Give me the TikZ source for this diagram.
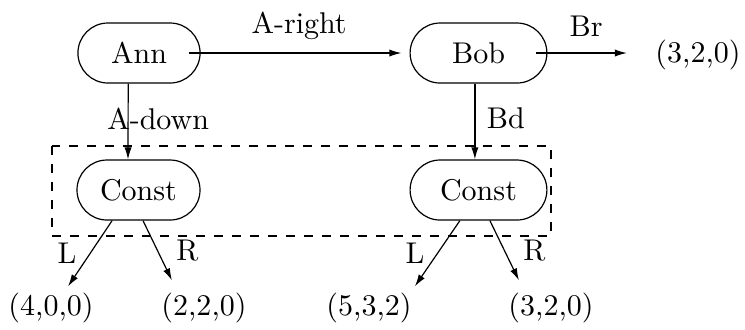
\documentclass[tikz,border=0pt]{standalone}
\usepackage{tikz}
\usetikzlibrary{arrows.meta, shapes.misc}

\begin{document}
\begin{tikzpicture}[x=0.3333pt, y=-0.3333pt, >={Latex[length=4pt,width=2.4pt]},
  state/.style={draw, rounded rectangle, minimum height=20pt, inner sep=0pt}]
\useasboundingbox (0,0) rectangle (745,329);
% players
\node[state, minimum width=40.7pt] (ann) at (139,53) {Ann};
\node[state, minimum width=45.6pt] (bob) at (478.5,53) {Bob};
% constant nodes, grouped in one box
\node[state, minimum width=41pt] (cl) at (138.5,190) {Const};
\node[state, minimum width=45.6pt] (cr) at (478.5,190) {Const};
\draw[dashed] (52,146) rectangle (551,236);
% payoffs
\node (pb) at (698,55) {(3,2,0)};
\node (p1) at (51,308) {(4,0,0)};
\node (p2) at (204,308) {(2,2,0)};
\node (p3) at (369,308) {(5,3,2)};
\node (p4) at (551,308) {(3,2,0)};
% moves of Ann and Bob
\draw[->, shorten >=2.7pt] ([xshift=-4pt]ann.east) -- (bob.west) node[midway, yshift=9.2pt] {A-right};
\draw[->, shorten >=6pt] ([xshift=-3.7pt]bob.east) -- (bob.east -| pb.west) node[midway, yshift=9pt, xshift=-1.5pt] {Br};
\draw[->] ([xshift=-3.6pt]ann.south) -- ([xshift=-3.5pt]cl.north) node[midway, xshift=10pt, yshift=1pt] {A-down};
\draw[->] ([xshift=-1.2pt]bob.south) -- ([xshift=-1.2pt]cr.north) node[midway, xshift=10.3pt, yshift=1pt] {Bd};
% moves of the constant nodes
\draw[->] ([xshift=-8.8pt]cl.south) -- ([xshift=5.7pt, yshift=-1.3pt]p1.north) node[midway, xshift=-7.7pt] {L};
\draw[->] ([xshift=1.5pt]cl.south) -- ([xshift=-10.7pt, yshift=0.7pt]p2.north) node[midway, xshift=10pt] {R};
\draw[->] ([xshift=-6.2pt]cr.south) -- ([xshift=15.3pt, yshift=-1.3pt]p3.north) node[midway, xshift=-7.5pt] {L};
\draw[->] ([xshift=3.8pt]cr.south) -- ([xshift=-10.7pt, yshift=0.7pt]p4.north) node[midway, xshift=10pt] {R};
\end{tikzpicture}
\end{document}
